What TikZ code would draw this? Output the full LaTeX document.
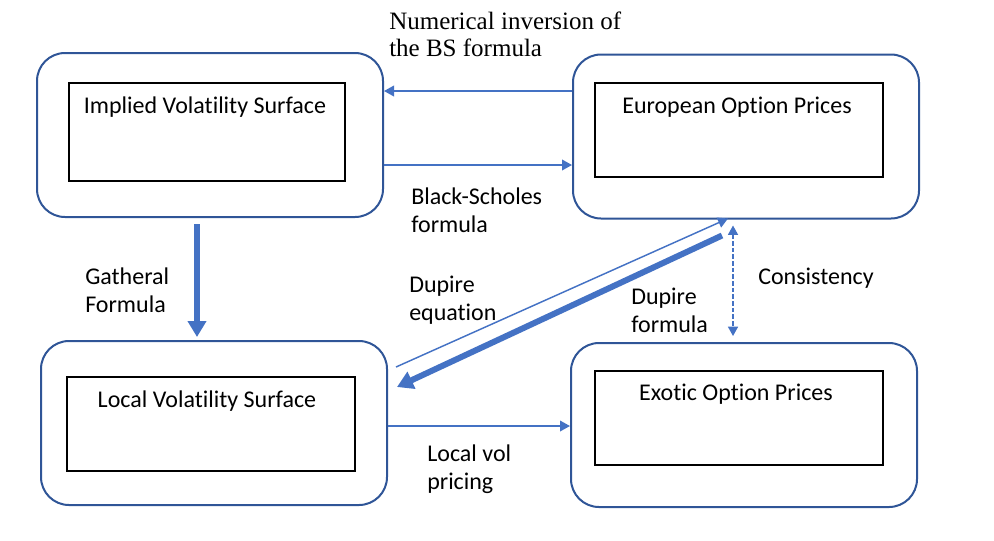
\documentclass[tikz,border=0pt]{standalone}
\usepackage{fontspec}
\setmainfont{Carlito}[Ligatures=NoCommon]
\newfontfamily\notefont{Liberation Serif}
\usetikzlibrary{positioning,calc,arrows.meta}
\definecolor{boxedge}{RGB}{47,85,151}
\definecolor{arrowblue}{RGB}{68,114,196}

\begin{document}
\begin{tikzpicture}[x=0.75pt,y=-0.75pt,
  outerbox/.style={draw=boxedge,line width=1.5pt,rounded corners=21pt,
    minimum width=259.5pt,minimum height=123pt,inner sep=0pt},
  innerbox/.style={draw=black,line width=1.6pt,inner sep=0pt,
    minimum width=216pt,minimum height=70.5pt},
  title/.style={font=\fontsize{18}{21}\selectfont,inner sep=0pt},
  lbl/.style={font=\fontsize{18}{21}\selectfont,align=left,inner sep=0pt,anchor=west},
  thinarr/.style={draw=arrowblue,line width=1.1pt,-{Triangle[length=7.5pt,width=8pt]}},
  thickarr/.style={draw=arrowblue,line width=4.5pt,-{Triangle[length=12pt,width=13.5pt]}},
  dasharr/.style={draw=arrowblue,line width=1.1pt,dash pattern=on 3.5pt off 1.5pt,
    {Triangle[length=7pt,width=7.5pt]}-{Triangle[length=7pt,width=7.5pt]},
    shorten <=4.5pt,shorten >=4.5pt}]
  \useasboundingbox (0,0) rectangle (994,540);
  % the four blocks
  \node[outerbox] (iv)  at (210,135)   {};
  \node[outerbox] (eop) at (746,136.5) {};
  \node[outerbox] (lvs) at (214,423)   {};
  \node[outerbox] (exo) at (744,425)   {};
  \node[innerbox,minimum width=207pt,minimum height=73.5pt] (ivin) at (207,132) {};
  \node[innerbox] (eopin) at (739,130) {};
  \node[innerbox] (lvsin) at (211,424) {};
  \node[innerbox] (exoin) at (739,418) {};
  \node[title] (ivtitle)  at ($(ivin.north)+(-2,25)$)  {Implied Volatility Surface};
  \node[title] (eoptitle) at ($(eopin.north)+(-2,25)$) {European Option Prices};
  \node[title] (lvstitle) at ($(lvsin.north)+(-4,25)$) {Local Volatility Surface};
  \node[title] (exotitle) at ($(exoin.north)+(-3,24)$) {Exotic Option Prices};
  % connectors
  \draw[thinarr] (eop.west |- 0,91) -- (iv.east |- 0,91);
  \draw[thinarr] (iv.east |- 0,165) -- (eop.west |- 0,165);
  \draw[thickarr] ($(iv.south)+(-13,6)$) -- ($(lvs.north)+(-17,-3)$);
  \draw[thinarr] ($(lvs.north east)+(8,27)$) -- ($(eop.south)+(-18,-1)$);
  \draw[thickarr] ($(eop.south)+(-24,16)$) -- ($(lvs.north east)+(9,47)$);
  \draw[dasharr] ($(eop.south)+(-13,0)$) -- ($(exo.north)+(-11,0)$);
  \draw[thinarr] (lvs.east |- 0,426) -- (exo.west |- 0,426);
  % labels
  \node[lbl,font=\notefont\fontsize{18.75}{20}\selectfont] (invlbl) at (389,34)
    {Numerical inversion of\\the BS formula};
  \node[lbl] (bslbl)   at (411,210) {Black-Scholes\\formula};
  \node[lbl] (gatlbl)  at (85,290)  {Gatheral\\Formula};
  \node[lbl] (eqlbl)   at (409,300) {Dupire\\equation};
  \node[lbl] (fmlbl)   at (631,310) {Dupire\\formula};
  \node[lbl] (conlbl)  at (758,278) {Consistency};
  \node[lbl] (lvplbl)  at (427,469) {Local vol\\pricing};
\end{tikzpicture}
\end{document}
